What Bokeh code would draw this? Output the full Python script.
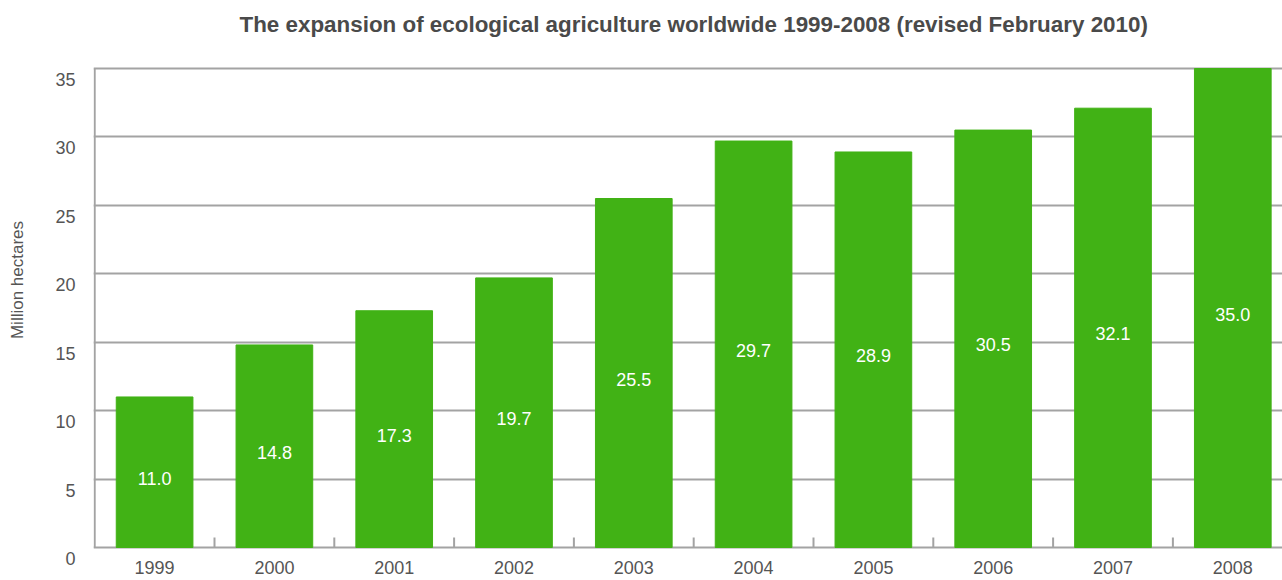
from bokeh.plotting import figure
from bokeh.models import FixedTicker, Range1d, ColumnDataSource, LinearAxis
from bokeh.core.properties import value
from bokeh.embed import file_html
from bokeh.resources import INLINE

title_text = "The expansion of ecological agriculture worldwide 1999-2008 (revised February 2010)"
years = ["1999", "2000", "2001", "2002", "2003", "2004", "2005", "2006", "2007", "2008"]
hectares = [11.0, 14.8, 17.3, 19.7, 25.5, 29.7, 28.9, 30.5, 32.1, 35.0]
y_ticks = [0, 5, 10, 15, 20, 25, 30, 35]
y_tick_labels = ["0", "5", "10", "15", "20", "25", "30", "35"]
y_label = "Million hectares"

FONT = "Liberation Sans"
GREEN = "#41b215"
GRAY = "#a3a3a3"
TEXT = "#555555"

W, H = 1282, 580
LEFT, BOTTOM = 93, 21
TOP_PX, BASE_PX = 68, 547     # pixel rows of the 35 and 0 gridlines
CAT_PX = 119.8                # pixels per category
Y0, Y1 = y_ticks[0], y_ticks[-1]
ppu = (BASE_PX - TOP_PX) / (Y1 - Y0)
y_start = Y0 - (H - BOTTOM - BASE_PX) / ppu
y_end = Y1 + TOP_PX / ppu
lab_shift = 11 / ppu          # tick labels sit ~11px below their gridline

xs = [i + 0.5 for i in range(len(years))]
bounds_x = list(range(1, len(years)))
src = ColumnDataSource(dict(
    x=xs,
    h=hectares,
    mid=[v / 2 for v in hectares],
    lbl=[f"{v:.1f}" for v in hectares],
))

p = figure(width=W, height=H,
           x_range=Range1d(-0.01, -0.01 + (W - LEFT) / CAT_PX),
           y_range=Range1d(y_start, y_end),
           output_backend="svg", toolbar_location=None,
           y_axis_location=None,
           min_border_left=LEFT, min_border_right=0,
           min_border_top=0, min_border_bottom=BOTTOM)
p.outline_line_color = None
p.background_fill_color = "white"
p.border_fill_color = "white"

p.xgrid.grid_line_color = None
p.ygrid.ticker = FixedTicker(ticks=y_ticks)   # the 0 line is the baseline
p.ygrid.grid_line_color = GRAY
p.ygrid.grid_line_width = 2

# vertical axis line and the small category separators on the baseline
p.segment(x0=[0], y0=[Y0], x1=[0], y1=[Y1], line_color=GRAY, line_width=2)
p.segment(x0=bounds_x, y0=[Y0] * len(bounds_x), x1=bounds_x,
          y1=[Y0 + 10 / ppu] * len(bounds_x), line_color=GRAY, line_width=2)

p.vbar(x="x", top="h", width=0.64, color=GREEN, source=src)
p.text(x="x", y="mid", text="lbl", source=src, text_color="white",
       text_align="center", text_baseline="middle", text_font_size="18px",
       text_font=value(FONT), y_offset=6)

# title
p.text(x=[len(years) / 2], y=[Y1 + (TOP_PX - 24) / ppu], text=[title_text],
       text_align="center", text_baseline="middle", text_font=value(FONT),
       text_font_size="22.4px", text_font_style="bold", text_color="#4a4a4a")

# x axis (labels only; baseline drawn by the 0 gridline)
xa = p.xaxis[0]
xa.ticker = FixedTicker(ticks=xs)
xa.major_label_overrides = {x: y for x, y in zip(xs, years)}
xa.major_tick_line_color = None
xa.minor_tick_line_color = None
xa.major_tick_out = 0
xa.major_tick_in = 0
xa.minor_tick_out = 0
xa.minor_tick_in = 0
xa.axis_line_color = None
xa.major_label_text_font = FONT
xa.major_label_text_font_size = "18px"
xa.major_label_text_color = TEXT
xa.major_label_standoff = 1

# y axis: labels on a slightly shifted range so they sit below the gridlines
p.extra_y_ranges = {"lab": Range1d(y_start + lab_shift, y_end + lab_shift)}
ya = LinearAxis(y_range_name="lab", ticker=FixedTicker(ticks=y_ticks),
                major_label_overrides={t: s for t, s in zip(y_ticks, y_tick_labels)})
ya.axis_line_color = None
ya.major_tick_line_color = None
ya.minor_tick_line_color = None
ya.major_tick_out = 0
ya.major_tick_in = 0
ya.major_label_standoff = 18
ya.major_label_text_font = FONT
ya.major_label_text_font_size = "18px"
ya.major_label_text_color = TEXT
ya.axis_label = y_label
ya.axis_label_text_font = FONT
ya.axis_label_text_font_size = "17px"
ya.axis_label_text_font_style = "normal"
ya.axis_label_text_color = TEXT
ya.axis_label_standoff = 25
p.add_layout(ya, "left")

open("out.html", "w").write(file_html(p, INLINE))
